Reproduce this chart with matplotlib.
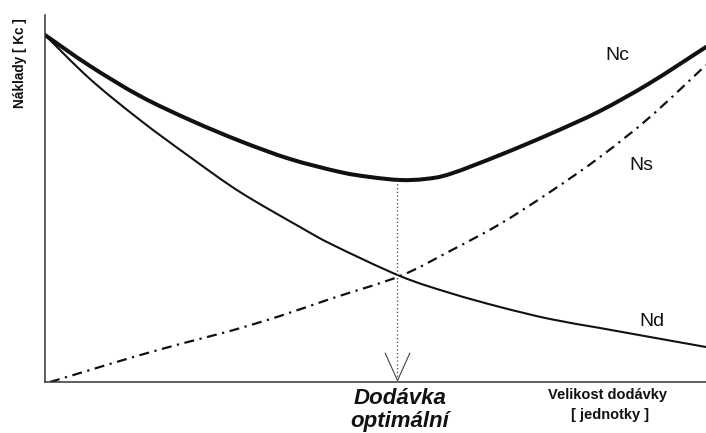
import numpy as np
import matplotlib
matplotlib.use("Agg")
import matplotlib.pyplot as plt
from matplotlib.path import Path
from matplotlib.patches import PathPatch

plt.rcParams['font.family'] = ['Liberation Sans', 'DejaVu Sans']

# values (delivery size q, cost)
q_nc = [0, 45, 95, 145, 195, 245, 295, 325, 355, 380, 405, 455, 505, 555, 605, 661]
nc = [347, 316, 286, 262, 241, 223, 210, 205, 202, 203, 208, 227, 248, 271, 299, 335]

q_nd = [0, 45, 95, 145, 195, 255, 288, 355, 405, 455, 505, 555, 605, 661]
nd = [347, 303, 262, 225, 190, 155, 137, 106, 89, 75, 63, 54, 45, 35]

q_ns = [5, 45, 85, 135, 185, 235, 285, 355, 405, 455, 505, 555, 605, 661]
ns = [0, 12, 24, 38, 51, 66, 83, 106, 131, 158, 190, 225, 265, 317]

q_opt = 352
nc_min = 202


def smooth_path(xs, ys):
    # cubic bezier segments through the points (catmull-rom tangents)
    p = np.column_stack([xs, ys]).astype(float)
    verts = [p[0]]
    codes = [Path.MOVETO]
    for i in range(len(p) - 1):
        p0 = p[i - 1] if i > 0 else p[i]
        p3 = p[i + 2] if i + 2 < len(p) else p[i + 1]
        c1 = p[i] + (p[i + 1] - p0) / 6
        c2 = p[i + 1] - (p3 - p[i]) / 6
        verts += [c1, c2, p[i + 1]]
        codes += [Path.CURVE4] * 3
    return Path(verts, codes)


fig = plt.figure(figsize=(7.06, 4.33), dpi=100)
ax = fig.add_axes([45/706, 51/433, 661/706, 367/433])
ax.set_xlim(0, 661)
ax.set_ylim(0, 367)

ink = '#111111'
ax.add_patch(PathPatch(smooth_path(q_nc, nc), fill=False, edgecolor=ink, lw=2.9,
                       capstyle='round', joinstyle='round'))
ax.add_patch(PathPatch(smooth_path(q_nd, nd), fill=False, edgecolor=ink, lw=1.5))
ax.add_patch(PathPatch(smooth_path(q_ns, ns), fill=False, edgecolor=ink, lw=1.6,
                       linestyle=(0, (4.5, 2.5, 1, 2.5))))

# dotted drop line with open arrow head
ax.plot([q_opt, q_opt], [nc_min, 2], color='#444444', lw=0.9, linestyle=(0, (1, 2)))
vee = Path([(-0.45, 1.0), (0, 0), (0.45, 1.0)], [Path.MOVETO, Path.LINETO, Path.LINETO])
ax.plot([q_opt], [2], marker=vee, markersize=40, markerfacecolor='none',
        markeredgecolor='#444444', markeredgewidth=0.8, clip_on=False)

for s in ['top', 'right']:
    ax.spines[s].set_visible(False)
for s in ['left', 'bottom']:
    ax.spines[s].set_color('#333333')
    ax.spines[s].set_linewidth(1.1)
ax.set_xticks([])
ax.set_yticks([])

fig.text(20/706, 1 - 63/433, 'Náklady [ Kc ]', rotation=90, ha='center', va='center',
         fontsize=9.8, fontweight='bold', color=ink)
fig.text(617/706, 1 - 55/433, 'Nc', ha='center', va='center', fontsize=14, color=ink)
fig.text(641/706, 1 - 166/433, 'Ns', ha='center', va='center', fontsize=14, color=ink)
fig.text(652/706, 1 - 322/433, 'Nd', ha='center', va='center', fontsize=14, color=ink)
fig.text(400/706, 1 - 398/433, 'Dodávka', ha='center', va='center', fontsize=16,
         fontweight='bold', fontstyle='italic', color=ink)
fig.text(400/706, 1 - 421/433, 'optimální', ha='center', va='center', fontsize=16,
         fontweight='bold', fontstyle='italic', color=ink)
fig.text(607/706, 1 - 395/433, 'Velikost dodávky', ha='center', va='center',
         fontsize=10.5, fontweight='bold', color=ink)
fig.text(610/706, 1 - 415/433, '[ jednotky ]', ha='center', va='center',
         fontsize=10.5, fontweight='bold', color=ink)

fig.savefig('out.png', dpi=100, facecolor='white')
